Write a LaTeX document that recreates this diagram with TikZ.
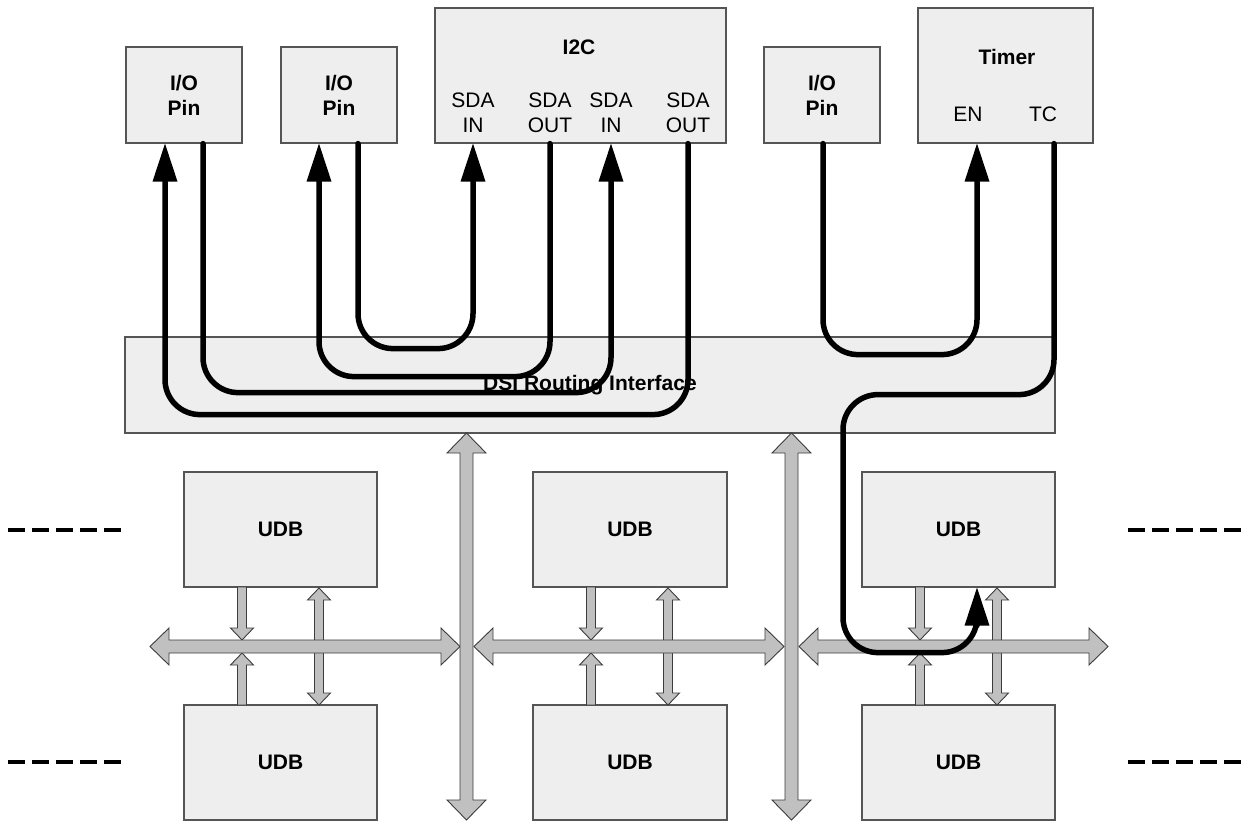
\documentclass[tikz,border=0pt]{standalone}
\usepackage{fontspec}
\setmainfont{Liberation Sans}
\usetikzlibrary{arrows.meta}
\definecolor{boxfill}{HTML}{EEEEEE}
\definecolor{boxline}{HTML}{555555}
\definecolor{busfill}{HTML}{C0C0C0}
\definecolor{busline}{HTML}{3C3C3C}
% horizontal double block arrow: x1, x2, y
\newcommand{\hbus}[3]{%
  \draw[bus] ({#1},{#3}) -- ({#1+19},{#3-18.5}) -- ({#1+19},{#3-6.5}) -- ({#2-19},{#3-6.5}) -- ({#2-19},{#3-18.5}) -- ({#2},{#3}) -- ({#2-19},{#3+18.5}) -- ({#2-19},{#3+6.5}) -- ({#1+19},{#3+6.5}) -- ({#1+19},{#3+18.5}) -- cycle;}
% vertical double block arrow: x, ytop, ybottom, shaft half, head half, head length
\newcommand{\vbus}[6]{%
  \draw[bus] ({#1},{#2}) -- ({#1+#5},{#2+#6}) -- ({#1+#4},{#2+#6}) -- ({#1+#4},{#3-#6}) -- ({#1+#5},{#3-#6}) -- ({#1},{#3}) -- ({#1-#5},{#3-#6}) -- ({#1-#4},{#3-#6}) -- ({#1-#4},{#2+#6}) -- ({#1-#5},{#2+#6}) -- cycle;}
% single small vertical block arrow: x, ystart, yheadbase, ytip
\newcommand{\sarr}[4]{%
  \draw[bus] ({#1-4.5},{#2}) -- ({#1-4.5},{#3}) -- ({#1-11.5},{#3}) -- ({#1},{#4}) -- ({#1+11.5},{#3}) -- ({#1+4.5},{#3}) -- ({#1+4.5},{#2}) -- cycle;}
\begin{document}
\begin{tikzpicture}[x=1pt,y=-1pt,
  blk/.style={draw=boxline,fill=boxfill,line width=1.2pt,rectangle,inner sep=0pt,align=center,font=\fontsize{21}{25}\selectfont\bfseries},
  lbl/.style={inner sep=0pt,align=center,font=\fontsize{21}{25}\selectfont},
  blbl/.style={inner sep=0pt,align=center,font=\fontsize{21}{25}\selectfont\bfseries},
  route/.style={line width=5.5pt,line cap=round,line join=round,rounded corners=35pt},
  rarrow/.style={-{Triangle[length=38pt,width=25pt,line width=0pt]}},
  bus/.style={draw=busline,fill=busfill,line width=0.9pt,line join=miter},
  dashline/.style={line width=4pt,dash pattern=on 17pt off 7pt}
]
\useasboundingbox (0,0) rectangle (1244,821);

% top blocks
\node[blk,minimum width=116pt,minimum height=96pt] (io1) at (184,95) {I/O\\Pin};
\node[blk,minimum width=116pt,minimum height=96pt] (io2) at (339,95) {I/O\\Pin};
\node[blk,minimum width=116pt,minimum height=96pt] (io3) at (822,95) {I/O\\Pin};
\node[blk,minimum width=291pt,minimum height=135pt] (i2c) at (580.5,75.5) {};
\node[blbl] (i2clbl) at (579,47) {I2C};
\node[lbl] (sdain1) at (473,113) {SDA\\IN};
\node[lbl] (sdaout1) at (550,113) {SDA\\OUT};
\node[lbl] (sdain2) at (611,113) {SDA\\IN};
\node[lbl] (sdaout2) at (688,113) {SDA\\OUT};
\node[blk,minimum width=175pt,minimum height=135pt] (timer) at (1005.5,75.5) {};
\node[blbl] (timerlbl) at (1007,56.5) {Timer};
\node[lbl] (en) at (968,114.5) {EN};
\node[lbl] (tc) at (1043,114.5) {TC};

% DSI
\node[blk,minimum width=930pt,minimum height=96pt] (dsi) at (590,385) {DSI Routing Interface};

% UDBs
\node[blk,minimum width=193pt,minimum height=115pt] (udb11) at (280.5,529.5) {UDB};
\node[blk,minimum width=194pt,minimum height=115pt] (udb12) at (630,529.5) {UDB};
\node[blk,minimum width=193pt,minimum height=115pt] (udb13) at (958.5,529.5) {UDB};
\node[blk,minimum width=193pt,minimum height=115pt] (udb21) at (280.5,762.5) {UDB};
\node[blk,minimum width=194pt,minimum height=115pt] (udb22) at (630,762.5) {UDB};
\node[blk,minimum width=193pt,minimum height=115pt] (udb23) at (958.5,762.5) {UDB};

% small arrows between UDBs and bus
\foreach \L in {184,533,862} {
  \sarr{\L+58}{587}{628}{640}
  \sarr{\L+58}{705}{665}{653}
  \vbus{\L+135}{588}{705}{4.5}{11.5}{12}
}
% horizontal buses
\hbus{150}{460}{646.5}
\hbus{474}{784}{646.5}
\hbus{799}{1108}{646.5}
% vertical buses
\vbus{466.5}{433}{820}{6.5}{19.5}{20}
\vbus{791.5}{433}{820}{6.5}{19.5}{20}

% dashed continuation lines
\coordinate (dl1a) at (8,530);   \coordinate (dl1b) at (121,530);
\coordinate (dl2a) at (8,762);   \coordinate (dl2b) at (121,762);
\coordinate (dr1a) at (1128,530); \coordinate (dr1b) at (1241,530);
\coordinate (dr2a) at (1128,762); \coordinate (dr2b) at (1241,762);
\draw[dashline] (dl1a) -- (dl1b);
\draw[dashline] (dl2a) -- (dl2b);
\draw[dashline] (dr1a) -- (dr1b);
\draw[dashline] (dr2a) -- (dr2b);

% ports
\coordinate (io1in) at ([xshift=-19pt]io1.south);
\coordinate (io1out) at ([xshift=19pt]io1.south);
\coordinate (io2in) at ([xshift=-20pt]io2.south);
\coordinate (io2out) at ([xshift=19pt]io2.south);
\coordinate (io3out) at ([xshift=1pt]io3.south);
\coordinate (i2cin1) at (sdain1 |- i2c.south);
\coordinate (i2cout1) at (sdaout1 |- i2c.south);
\coordinate (i2cin2) at (sdain2 |- i2c.south);
\coordinate (i2cout2) at (sdaout2 |- i2c.south);
\coordinate (timen) at ([xshift=-28.5pt]timer.south);
\coordinate (timtc) at ([xshift=48.5pt]timer.south);
\coordinate (udbp) at ([xshift=18.5pt]udb13.south);

% routes
\draw[route,rarrow] (io2out) -- ++(0,205) -| (i2cin1);
\draw[route,rarrow] (i2cout1) -- ++(0,233) -| (io2in);
\draw[route,rarrow] (io1out) -- ++(0,249) -| (i2cin2);
\draw[route,rarrow] (i2cout2) -- ++(0,271) -| (io1in);
\draw[route,rarrow] (io3out) -- ++(0,211) -| (timen);
\draw[route,rarrow] (timtc) -- ++(0,251) -- ++(-211,0) -- ++(0,258) -| (udbp);
\end{tikzpicture}
\end{document}
